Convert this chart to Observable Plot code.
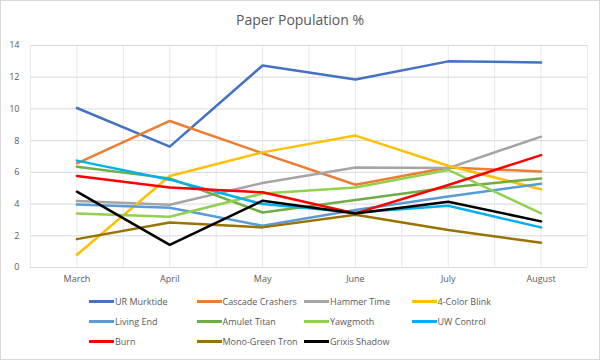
<!DOCTYPE html>
<html>
<head>
<meta charset="utf-8">
<script src="https://cdn.jsdelivr.net/npm/d3@7"></script>
<script src="https://cdn.jsdelivr.net/npm/@observablehq/plot@0.6"></script>
<style>
  html, body { margin: 0; padding: 0; background: #fff; }
  #chart { position: relative; width: 598px; height: 358px; border: 1px solid #d9d9d9; background: #fff; font-family: "Open Sans", sans-serif; color: #595959; overflow: hidden; }
  #title { height: 38px; line-height: 38px; text-align: center; font-size: 14px; color: #595959; }
  #legend { display: grid; grid-template-columns: repeat(4, 107.5px); grid-auto-rows: 19.7px; margin-left: 88px; padding-top: 5px; font-size: 9px; }
  .item { display: flex; align-items: center; white-space: nowrap; }
  .sw { width: 25px; height: 3px; margin-right: 1px; flex: none; }
</style>
</head>
<body>
<div id="chart">
  <div id="title">Paper Population %</div>
  <div id="plot"></div>
  <div id="legend"></div>
</div>
<script>
const months = ["March", "April", "May", "June", "July", "August"];
const seriesNames = ["UR Murktide", "Cascade Crashers", "Hammer Time", "4-Color Blink", "Living End", "Amulet Titan", "Yawgmoth", "UW Control", "Burn", "Mono-Green Tron", "Grixis Shadow"];
const seriesColors = ["#4472C4", "#ED7D31", "#A5A5A5", "#FFC000", "#5B9BD5", "#70AD47", "#92D050", "#00B0F0", "#FF0000", "#997300", "#000000"];

const urMurktide      = [10.06, 7.62, 12.74, 11.85, 13.0, 12.93];
const cascadeCrashers = [6.57, 9.24, 7.2, 5.22, 6.3, 6.06];
const hammerTime      = [4.2, 3.96, 5.33, 6.3, 6.27, 8.25];
const fourColorBlink  = [0.8, 5.77, 7.26, 8.32, 6.42, 4.93];
const livingEnd       = [3.98, 3.77, 2.63, 3.62, 4.48, 5.28];
const amuletTitan     = [6.36, 5.62, 3.47, 4.25, 5.05, 5.62];
const yawgmoth        = [3.41, 3.2, 4.67, 5.05, 6.15, 3.41];
const uwControl       = [6.74, 5.54, 4.0, 3.47, 3.89, 2.53];
const burn            = [5.77, 5.05, 4.74, 3.41, 5.2, 7.09];
const monoGreenTron   = [1.79, 2.84, 2.53, 3.33, 2.36, 1.56];
const grixisShadow    = [4.78, 1.43, 4.21, 3.41, 4.15, 2.91];

const yTicks = [0, 2, 4, 6, 8, 10, 12, 14];

const seriesValues = [urMurktide, cascadeCrashers, hammerTime, fourColorBlink, livingEnd, amuletTitan, yawgmoth, uwControl, burn, monoGreenTron, grixisShadow];

const rows = [];
seriesNames.forEach((name, s) => {
  seriesValues[s].forEach((v, i) => rows.push({series: name, month: months[i], idx: i, value: v}));
});

const gridX = d3.range(-0.5, months.length, 0.5);

const chart = Plot.plot({
  width: 598,
  height: 248,
  marginTop: 6,
  marginBottom: 20,
  marginLeft: 29,
  marginRight: 12,
  style: {background: "transparent", fontFamily: "'Open Sans', sans-serif", fontSize: "9px", color: "#595959"},
  x: {type: "linear", domain: [-0.5, months.length - 0.5], ticks: d3.range(months.length), tickFormat: i => months[i], tickSize: 0, tickPadding: 8, label: null},
  y: {domain: [0, 14], ticks: yTicks, tickSize: 0, tickPadding: 11, label: null},
  color: {domain: seriesNames, range: seriesColors},
  marks: [
    Plot.ruleX(gridX, {stroke: "#e8e8e8", strokeWidth: 1}),
    Plot.ruleY(yTicks, {stroke: "#d9d9d9", strokeWidth: 1}),
    ...seriesNames.map(name => Plot.line(rows.filter(d => d.series === name), {x: "idx", y: "value", stroke: "series", strokeWidth: 2.5, strokeLinejoin: "round", strokeLinecap: "round"}))
  ]
});
document.getElementById("plot").appendChild(chart);

const legend = document.getElementById("legend");
seriesNames.forEach((name, i) => {
  const item = document.createElement("div");
  item.className = "item";
  const sw = document.createElement("span");
  sw.className = "sw";
  sw.style.background = seriesColors[i];
  const label = document.createElement("span");
  label.textContent = name;
  item.appendChild(sw);
  item.appendChild(label);
  legend.appendChild(item);
});
</script>
</body>
</html>
